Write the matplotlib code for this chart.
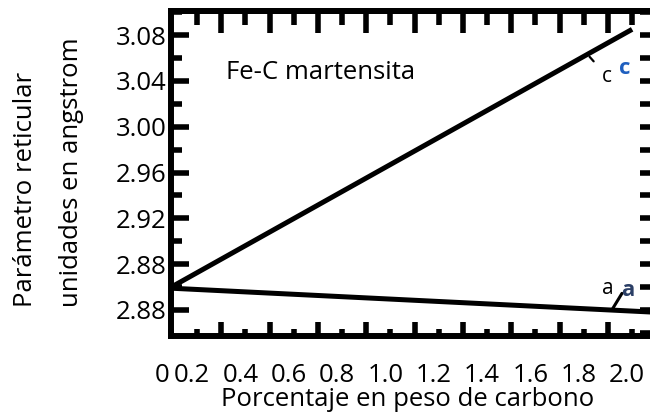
import matplotlib
matplotlib.use("Agg")
import matplotlib.pyplot as plt
import matplotlib.transforms as mtransforms
import numpy as np

plt.rcParams["font.family"] = ["Open Sans", "DejaVu Sans"]

# lattice parameter lines (wt% C vs angstrom)
carbon_c = [0.0, 2.0]
lattice_c = [2.849, 3.085]
carbon_a = [0.0, 2.1]
lattice_a = [2.860, 2.838]

x_tick_labels = ["0", "0.2", "0.4", "0.6", "0.8", "1.0", "1.2", "1.4", "1.6", "1.8", "2.0"]
y_tick_values = [2.84, 2.88, 2.92, 2.96, 3.00, 3.04, 3.08]
y_tick_labels = ["2.88", "2.88", "2.92", "2.96", "3.00", "3.04", "3.08"]

x_min, x_max = 0.092, 2.103
y_min, y_max = 2.8173, 3.101

fig = plt.figure(figsize=(6.5, 4.17), dpi=100)
ax = fig.add_axes([171 / 650, 1 - 336 / 417, 486 / 650, 325 / 417])

ax.plot(carbon_c, lattice_c, color="black", lw=3.6, solid_capstyle="butt")
ax.plot(carbon_a, lattice_a, color="black", lw=3.6, solid_capstyle="butt")
ax.set_xlim(x_min, x_max)
ax.set_ylim(y_min, y_max)

for s in ax.spines.values():
    s.set_linewidth(4.3)

# x axis: "0" sits at the left frame edge
x_major = [x_min] + [0.2 * k for k in range(1, 11)]
x_minor = [0.1 + 0.2 * k for k in range(1, 10)]
ax.set_xticks(x_major, x_tick_labels)
ax.set_xticks(x_minor, minor=True)
ax.tick_params(axis="x", which="major", direction="in", length=5, width=4,
               pad=19.5, labelsize=18.5, top=False)
ax.tick_params(axis="x", which="minor", direction="in", length=10, width=4, top=False)
for i, lab in enumerate(ax.get_xticklabels()):
    dx = -9 if i == 0 else -5
    shift = mtransforms.ScaledTranslation(dx / 100, 0, fig.dpi_scale_trans)
    lab.set_transform(lab.get_transform() + shift)

y_minor = [2.86, 2.90, 2.94, 2.98, 3.02, 3.06, 3.10]
ax.set_yticks(y_tick_values, y_tick_labels)
ax.set_yticks(y_minor, minor=True)
ax.tick_params(axis="y", which="major", direction="in", length=13.3, width=4,
               pad=3, labelsize=18.5, right=False)
ax.tick_params(axis="y", which="minor", direction="in", length=7.6, width=4, right=False)

# top ticks
top = ax.secondary_xaxis("top")
top.set_xticks([0.2 * k for k in range(1, 11)])
top.set_xticks(x_minor, minor=True)
top.tick_params(which="major", direction="in", length=10, width=4, labeltop=False)
top.tick_params(which="minor", direction="in", length=16, width=4)
top.spines["top"].set_linewidth(4.3)

# right ticks (frame edge lies just past the image)
right = ax.secondary_yaxis("right")
right.set_yticks(np.round(np.arange(2.82, 3.101, 0.02), 2))
right.tick_params(direction="in", length=12, width=4, labelright=False)
right.spines["right"].set_linewidth(4.3)

ax.text(0.113, 0.811, "Fe-C martensita", transform=ax.transAxes,
        fontsize=18.5, va="center", ha="left")

ax.annotate("c", xy=(1.82, 3.062), xytext=(1.896, 3.044), fontsize=15,
            ha="center", va="center",
            arrowprops=dict(arrowstyle="-", lw=1.6, shrinkA=6, shrinkB=1))
ax.text(1.971, 3.051, "c", fontsize=16, fontweight="bold", color="#1f5fbf",
        ha="center", va="center")
ax.annotate("a", xy=(1.915, 2.8396), xytext=(1.901, 2.8592), fontsize=15,
            ha="center", va="center")
ax.annotate("", xy=(1.915, 2.8396), xytext=(1.958, 2.8545),
            arrowprops=dict(arrowstyle="-", lw=2.2, shrinkA=0, shrinkB=0))
ax.text(1.983, 2.8566, "a", fontsize=16, fontweight="bold", color="#2b3f66",
        ha="center", va="center")

fig.text(0.04, 1 - 307 / 417, "Parámetro reticular", rotation=90,
         ha="center", va="bottom", fontsize=18.5)
fig.text(0.11, 1 - 307 / 417, "unidades en angstrom", rotation=90,
         ha="center", va="bottom", fontsize=18.5)
fig.text(0.627, 1 - 406 / 417, "Porcentaje en peso de carbono",
         ha="center", va="baseline", fontsize=18.5)

fig.savefig("out.png", dpi=100)
